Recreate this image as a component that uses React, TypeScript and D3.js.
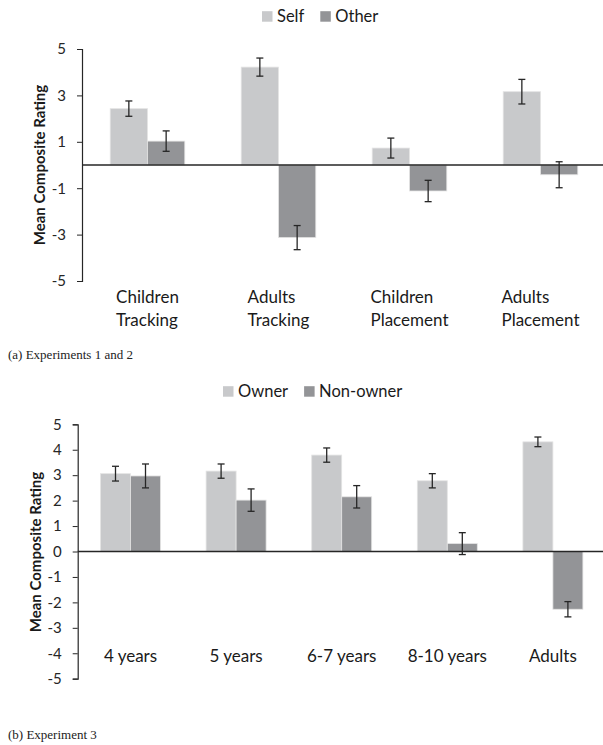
import React, { useEffect, useRef } from "react";
import * as d3 from "d3";

// panel (a): Experiments 1 and 2
const catsA = [
  ["Children", "Tracking"],
  ["Adults", "Tracking"],
  ["Children", "Placement"],
  ["Adults", "Placement"],
];
const selfMeans = [2.43, 4.22, 0.73, 3.16];
const selfErr = [0.33, 0.39, 0.43, 0.53];
const otherMeans = [1.03, -3.13, -1.12, -0.42];
const otherErr = [0.44, 0.52, 0.46, 0.56];
const ticksA = [5, 3, 1, -1, -3, -5];

// panel (b): Experiment 3
const catsB = [["4 years"], ["5 years"], ["6-7 years"], ["8-10 years"], ["Adults"]];
const ownerMeans = [3.06, 3.16, 3.79, 2.78, 4.31];
const ownerErr = [0.29, 0.28, 0.28, 0.28, 0.19];
const nonOwnerMeans = [2.97, 2.02, 2.15, 0.31, -2.27];
const nonOwnerErr = [0.47, 0.44, 0.44, 0.43, 0.3];
const ticksB = [5, 4, 3, 2, 1, 0, -1, -2, -3, -4, -5];

const LIGHT = "#c8c9cb";
const DARK = "#939497";
const INK = "#262626";
const FONT = "Lato, 'Open Sans', sans-serif";

interface Panel {
  cats: string[][];
  series: { name: string; means: number[]; errs: number[]; color: string }[];
  ticks: number[];
  top: number;
  bottom: number;
  left: number;
  right: number;
  barWidth: number;
  catY: number;
  legendY: number;
  legendX: number;
  titleX: number;
  titleY: number;
  caption: string;
  captionY: number;
}

const panels: Panel[] = [
  {
    cats: catsA,
    series: [
      { name: "Self", means: selfMeans, errs: selfErr, color: LIGHT },
      { name: "Other", means: otherMeans, errs: otherErr, color: DARK },
    ],
    ticks: ticksA,
    top: 49,
    bottom: 281,
    left: 82,
    right: 606,
    barWidth: 37.3,
    catY: 303,
    legendY: 21.7,
    legendX: 262,
    titleX: 45,
    titleY: 165,
    caption: "(a) Experiments 1 and 2",
    captionY: 359,
  },
  {
    cats: catsB,
    series: [
      { name: "Owner", means: ownerMeans, errs: ownerErr, color: LIGHT },
      { name: "Non-owner", means: nonOwnerMeans, errs: nonOwnerErr, color: DARK },
    ],
    ticks: ticksB,
    top: 424.3,
    bottom: 678.7,
    left: 77.7,
    right: 605.7,
    barWidth: 30,
    catY: 662,
    legendY: 396.7,
    legendX: 223,
    titleX: 41,
    titleY: 552,
    caption: "(b) Experiment 3",
    captionY: 739,
  },
];

const App: React.FC = () => {
  const svgRef = useRef<SVGSVGElement>(null);

  useEffect(() => {
    if (!svgRef.current) return;
    const svg = d3.select(svgRef.current);
    svg.selectAll("*").remove();

    panels.forEach((p) => {
      const g = svg.append("g");

      const x = d3
        .scaleBand<number>()
        .domain(d3.range(p.cats.length))
        .range([p.left, p.right]);

      const y = d3.scaleLinear().domain([-5, 5]).range([p.bottom, p.top]);

      // bars + error bars
      p.series.forEach((s, si) => {
        const bx = (i: number) =>
          x(i)! + x.bandwidth() / 2 - p.barWidth + si * p.barWidth;

        g.append("g")
          .selectAll("rect")
          .data(s.means)
          .enter()
          .append("rect")
          .attr("x", (_, i) => bx(i))
          .attr("y", (d) => y(Math.max(0, d)))
          .attr("width", p.barWidth)
          .attr("height", (d) => Math.abs(y(d) - y(0)))
          .attr("fill", s.color)
          .attr("stroke", "#e4e4e4")
          .attr("stroke-width", 0.8);

        const eb = g
          .append("g")
          .selectAll("g")
          .data(s.means)
          .enter()
          .append("g")
          .attr("stroke", INK)
          .attr("stroke-width", 1.3);
        eb.append("line")
          .attr("x1", (_, i) => bx(i) + p.barWidth / 2)
          .attr("x2", (_, i) => bx(i) + p.barWidth / 2)
          .attr("y1", (d, i) => y(d + s.errs[i]))
          .attr("y2", (d, i) => y(d - s.errs[i]));
        [1, -1].forEach((sign) => {
          eb.append("line")
            .attr("x1", (_, i) => bx(i) + p.barWidth / 2 - 3.5)
            .attr("x2", (_, i) => bx(i) + p.barWidth / 2 + 3.5)
            .attr("y1", (d, i) => y(d + sign * s.errs[i]))
            .attr("y2", (d, i) => y(d + sign * s.errs[i]));
        });
      });

      // y axis
      const axis = g
        .append("g")
        .attr("transform", `translate(${p.left},0)`)
        .call(
          d3
            .axisLeft(y)
            .tickValues(p.ticks)
            .tickSize(5)
            .tickPadding(11)
            .tickFormat((d) => String(d)),
        );
      axis.select(".domain").attr("stroke", INK).attr("stroke-width", 1.2);
      axis.selectAll(".tick line").attr("stroke", INK);
      axis
        .selectAll(".tick text")
        .attr("fill", "#262626")
        .style("font-family", FONT)
        .style("font-size", "15px");

      // zero line
      g.append("line")
        .attr("x1", p.left)
        .attr("x2", 603)
        .attr("y1", y(0))
        .attr("y2", y(0))
        .attr("stroke", INK)
        .attr("stroke-width", 1.3);

      // category labels: lines left-aligned, block centred on the band
      const cl = g
        .append("g")
        .selectAll("text")
        .data(p.cats)
        .enter()
        .append("text")
        .attr("text-anchor", "start")
        .attr("fill", "#1a1a1a")
        .style("font-family", FONT)
        .style("font-size", "17px");
      cl.each(function (lines, i) {
        const t = d3.select(this);
        const spans = lines.map((ln, j) =>
          t.append("tspan").attr("y", p.catY + j * 22.5).text(ln),
        );
        const maxW = d3.max(spans, (s) =>
          (s.node() as SVGTSpanElement).getComputedTextLength(),
        )!;
        const cx = x(i)! + x.bandwidth() / 2;
        spans.forEach((s) => s.attr("x", cx - maxW / 2));
      });

      // axis title
      g.append("text")
        .attr("transform", `translate(${p.titleX},${p.titleY}) rotate(-90)`)
        .attr("text-anchor", "middle")
        .attr("fill", "#1a1a1a")
        .style("font-family", FONT)
        .style("font-weight", "bold")
        .style("font-size", "15px")
        .text("Mean Composite Rating");

      // legend
      let lx = p.legendX;
      p.series.forEach((s) => {
        g.append("rect")
          .attr("x", lx)
          .attr("y", p.legendY - 10.5)
          .attr("width", 10.5)
          .attr("height", 10.5)
          .attr("fill", s.color);
        const t = g
          .append("text")
          .attr("x", lx + 15)
          .attr("y", p.legendY)
          .attr("fill", "#1a1a1a")
          .style("font-family", FONT)
          .style("font-size", "16.5px")
          .text(s.name);
        const w = (t.node() as SVGTextElement).getComputedTextLength();
        lx += 15 + w + 16;
      });

      // caption
      g.append("text")
        .attr("x", 8)
        .attr("y", p.captionY)
        .attr("fill", "#222")
        .style("font-family", "'Liberation Serif', 'DejaVu Serif', serif")
        .style("font-size", "13px")
        .text(p.caption);
    });
  }, []);

  return (
    <svg
      ref={svgRef}
      width={603}
      height={745}
      style={{ position: "absolute", left: 0, top: 0, background: "white" }}
    />
  );
};

export default App;
